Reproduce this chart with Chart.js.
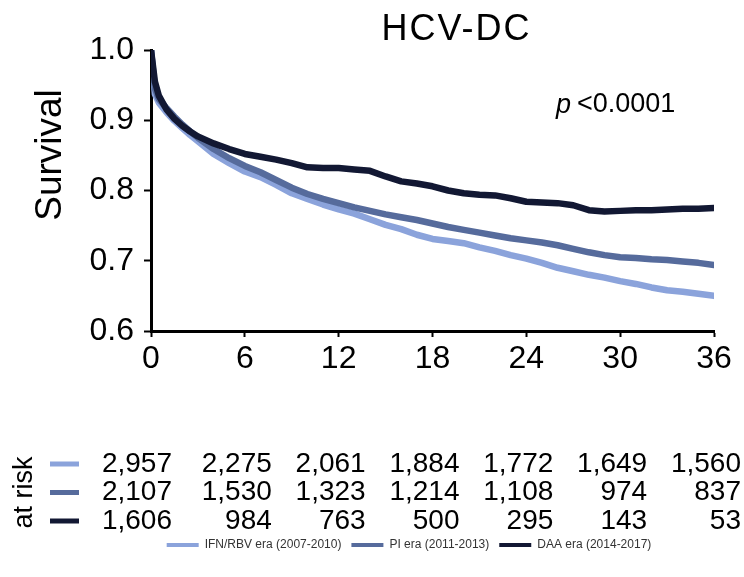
<!DOCTYPE html>
<html>
<head>
<meta charset="utf-8">
<title>HCV-DC survival</title>
<script src="https://cdn.jsdelivr.net/npm/chart.js@4/dist/chart.umd.min.js"></script>
<style>
  html, body { margin: 0; padding: 0; background: #fff; }
</style>
</head>
<body>
<canvas id="km" width="744" height="577"></canvas>
<script>
// data
const months = [0, 0.25, 0.5, 1, 1.5, 2, 2.5, 3, 4, 5, 6, 7, 8, 9, 10, 11, 12, 13, 14, 15, 16, 17, 18,
  19, 20, 21, 22, 23, 24, 25, 26, 27, 28, 29, 30, 31, 32, 33, 34, 35, 36];
const ifnSurv = [1.0, 0.937, 0.925, 0.911, 0.899, 0.889, 0.879, 0.870, 0.852, 0.839, 0.827, 0.819, 0.808, 0.796,
  0.788, 0.780, 0.773, 0.767, 0.759, 0.751, 0.745, 0.737, 0.731, 0.728, 0.725, 0.719, 0.714, 0.708, 0.703,
  0.697, 0.690, 0.685, 0.680, 0.676, 0.671, 0.667, 0.662, 0.658, 0.656, 0.653, 0.650];
const piSurv = [1.0, 0.945, 0.930, 0.917, 0.905, 0.894, 0.884, 0.875, 0.859, 0.846, 0.835, 0.826, 0.815, 0.804,
  0.795, 0.788, 0.782, 0.776, 0.771, 0.766, 0.762, 0.758, 0.753, 0.748, 0.744, 0.740, 0.736, 0.732, 0.729,
  0.726, 0.722, 0.717, 0.712, 0.708, 0.705, 0.704, 0.702, 0.701, 0.699, 0.697, 0.694];
const daaSurv = [1.0, 0.955, 0.935, 0.915, 0.902, 0.892, 0.884, 0.877, 0.867, 0.859, 0.852, 0.848, 0.844, 0.839,
  0.833, 0.832, 0.832, 0.830, 0.828, 0.820, 0.813, 0.810, 0.806, 0.800, 0.796, 0.794, 0.793, 0.789, 0.784,
  0.783, 0.782, 0.779, 0.772, 0.770, 0.771, 0.772, 0.772, 0.773, 0.774, 0.774, 0.775];

const seriesNames = ['IFN/RBV era (2007-2010)', 'PI era (2011-2013)', 'DAA era (2014-2017)'];
const seriesColors = ['#8ba3db', '#566b9c', '#121833'];

// numbers at risk at each x tick
const riskTimes = [0, 6, 12, 18, 24, 30, 36];
const riskIfn = [2957, 2275, 2061, 1884, 1772, 1649, 1560];
const riskPi = [2107, 1530, 1323, 1214, 1108, 974, 837];
const riskDaa = [1606, 984, 763, 500, 295, 143, 53];

const FONT = "'Liberation Sans', Arial, sans-serif";

const toPoints = (ys) => months.map((m, i) => ({ x: m, y: ys[i] }));

const lineSet = (idx, ys) => ({
  label: seriesNames[idx],
  data: toPoints(ys),
  borderColor: seriesColors[idx],
  backgroundColor: seriesColors[idx],
  borderWidth: 6.5,
  borderCapStyle: 'round',
  borderJoinStyle: 'round',
  pointRadius: 0,
  tension: 0
});

// extra text: title, p value, axis label, at-risk table
const extras = {
  id: 'extras',
  afterLayout(chart) {
    // legend in the original sits under the plot, not the canvas centre
    chart.legend.left += 52;
    chart.legend.right += 52;
  },
  afterDraw(chart) {
    const { ctx, chartArea, scales } = chart;
    const xs = scales.x;
    ctx.save();
    ctx.fillStyle = '#000';
    ctx.textBaseline = 'middle';

    // title
    ctx.font = '36px ' + FONT;
    ctx.textAlign = 'center';
    ctx.letterSpacing = '2px';
    ctx.fillText('HCV-DC', (chartArea.left + chartArea.right) / 2 + 24, 30);
    ctx.letterSpacing = '0px';

    // p value
    ctx.textAlign = 'left';
    ctx.font = 'italic 27px ' + FONT;
    ctx.fillText('p', 556, 105);
    ctx.font = '27px ' + FONT;
    ctx.fillText('<0.0001', 577, 105);

    // y axis title
    ctx.save();
    ctx.translate(51, 155);
    ctx.rotate(-Math.PI / 2);
    ctx.textAlign = 'center';
    ctx.font = '37px ' + FONT;
    ctx.fillText('Survival', 0, 0);
    ctx.restore();

    // at risk
    const rows = [riskIfn, riskPi, riskDaa];
    const rowY = (r) => chartArea.bottom + 133 + r * 28.5;
    ctx.save();
    ctx.translate(25, rowY(1));
    ctx.rotate(-Math.PI / 2);
    ctx.textAlign = 'center';
    ctx.font = '27px ' + FONT;
    ctx.fillText('at risk', 0, 0);
    ctx.restore();

    ctx.font = '28px ' + FONT;
    ctx.textAlign = 'right';
    rows.forEach((row, r) => {
      const y = rowY(r);
      ctx.strokeStyle = seriesColors[r];
      ctx.lineWidth = 5;
      ctx.beginPath();
      ctx.moveTo(50, y);
      ctx.lineTo(79, y);
      ctx.stroke();
      row.forEach((n, i) => {
        const right = xs.getPixelForValue(riskTimes[i]) + (i === 0 ? 21 : 27);
        ctx.fillText(n.toLocaleString('en-US'), right, y);
      });
    });
    ctx.restore();
  }
};

const chart = new Chart(document.getElementById('km'), {
  type: 'line',
  data: {
    // DAA first so it is drawn on top; legend is reversed below
    datasets: [lineSet(2, daaSurv), lineSet(1, piSurv), lineSet(0, ifnSurv)]
  },
  options: {
    responsive: false,
    animation: false,
    layout: { padding: { top: 50, right: 30, bottom: 16, left: 0 } },
    scales: {
      x: {
        type: 'linear',
        min: 0,
        max: 36,
        afterFit: (scale) => { scale.height = 198; },
        ticks: { stepSize: 6, color: '#000', font: { family: FONT, size: 32 }, padding: 3, maxRotation: 0 },
        grid: { drawOnChartArea: false, tickLength: 6, tickWidth: 2, tickColor: '#000' },
        border: { color: '#000', width: 3 }
      },
      y: {
        min: 0.6,
        max: 1.0,
        afterFit: (scale) => { scale.width = 151; },
        ticks: {
          stepSize: 0.1,
          color: '#000',
          font: { family: FONT, size: 32 },
          padding: 10,
          callback: (v) => v.toFixed(1)
        },
        grid: { drawOnChartArea: false, tickLength: 7, tickWidth: 2, tickColor: '#000' },
        border: { color: '#000', width: 3 }
      }
    },
    plugins: {
      legend: {
        position: 'bottom',
        reverse: true,
        labels: {
          color: '#333',
          font: { family: FONT, size: 12 },
          boxWidth: 32,
          boxHeight: 4,
          padding: 10,
          generateLabels(chart) {
            const items = Chart.defaults.plugins.legend.labels.generateLabels(chart);
            items.forEach(it => { it.lineWidth = 0; it.fillStyle = it.strokeStyle; });
            return items;
          }
        }
      },
      tooltip: { enabled: false },
      title: { display: false }
    }
  },
  plugins: [extras]
});
</script>
</body>
</html>
